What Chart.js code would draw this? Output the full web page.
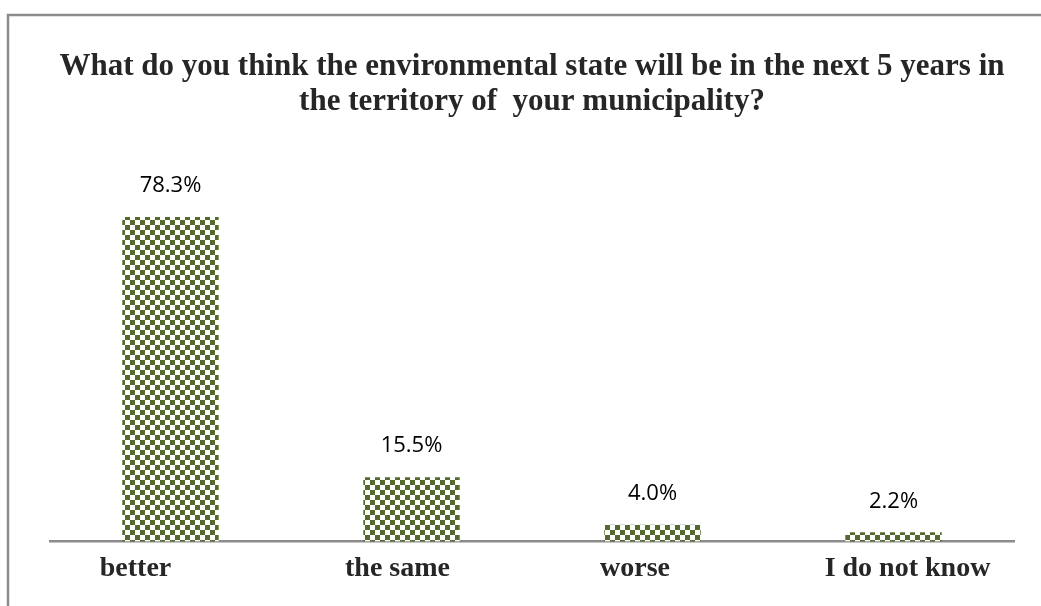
<!DOCTYPE html>
<html>
<head>
<meta charset="utf-8">
<script src="https://cdn.jsdelivr.net/npm/chart.js@4.4.1/dist/chart.umd.min.js"></script>
<style>
  html, body { margin: 0; padding: 0; background: #ffffff; }
  #wrap { position: relative; width: 1041px; height: 606px; }
</style>
</head>
<body>
<div id="wrap"><canvas id="c" width="1041" height="606"></canvas></div>
<script>
// ---- data ----
const titleLines = [
  "What do you think the environmental state will be in the next 5 years in",
  "the territory of  your municipality?"
];
const categories = ["better", "the same", "worse", "I do not know"];
const tickLabels = ["better          ", "the same    ", "worse     ", "    I do not know"];
const values = [78.3, 15.5, 4.0, 2.2];
const valueLabels = ["78.3%", "15.5%", "4.0%", "2.2%"];
const yMin = 0;
const yMax = 100;

// ---- styles ----
const GREEN = '#546a2c';
const TEXT = '#262626';
const GRAY = '#8c8c8c';
const SERIF = '"Liberation Serif", "Times New Roman", serif';

function makeChecker(ctx) {
  const s = 5;
  const t = document.createElement('canvas');
  t.width = 2 * s; t.height = 2 * s;
  const g = t.getContext('2d');
  g.fillStyle = '#ffffff';
  g.fillRect(0, 0, 2 * s, 2 * s);
  g.fillStyle = GREEN;
  g.fillRect(0, 0, s, s);
  g.fillRect(s, s, s, s);
  return ctx.createPattern(t, 'repeat');
}

const frame = {
  id: 'frame',
  beforeDraw(chart) {
    const ctx = chart.ctx;
    ctx.save();
    ctx.fillStyle = '#ffffff';
    ctx.fillRect(0, 0, chart.width, chart.height);
    ctx.strokeStyle = GRAY;
    ctx.lineWidth = 2.5;
    ctx.beginPath();
    ctx.moveTo(8, chart.height);
    ctx.lineTo(8, 15);
    ctx.lineTo(chart.width, 15);
    ctx.stroke();
    ctx.restore();
  }
};

const valueLabelPlugin = {
  id: 'valueLabels',
  afterDatasetsDraw(chart) {
    const ctx = chart.ctx;
    const meta = chart.getDatasetMeta(0);
    ctx.save();
    ctx.font = '22px "Open Sans", "Noto Sans", sans-serif';
    ctx.fillStyle = '#000000';
    ctx.textAlign = 'center';
    ctx.textBaseline = 'middle';
    meta.data.forEach((el, i) => {
      ctx.fillText(valueLabels[i], el.x, el.y - 31);
    });
    ctx.restore();
  }
};

const canvas = document.getElementById('c');
const ctx = canvas.getContext('2d');

new Chart(ctx, {
  type: 'bar',
  data: {
    labels: tickLabels,
    datasets: [{
      label: 'share',
      data: values,
      backgroundColor: makeChecker(ctx),
      borderWidth: 0,
      barPercentage: 0.4,
      categoryPercentage: 1.0
    }]
  },
  options: {
    responsive: false,
    animation: false,
    devicePixelRatio: 1,
    layout: { padding: { left: 50, right: 27, top: 0, bottom: 9 } },
    plugins: {
      legend: { display: false },
      tooltip: { enabled: false },
      title: {
        display: true,
        text: titleLines,
        color: TEXT,
        font: { family: SERIF, size: 31, weight: 'bold', lineHeight: 1.13 },
        padding: { top: 49, bottom: 8 }
      }
    },
    scales: {
      x: {
        grid: { display: false, drawTicks: false },
        border: { display: true, color: GRAY, width: 2.5 },
        ticks: {
          color: TEXT,
          padding: 11,
          font: { family: SERIF, size: 28, weight: 'bold', lineHeight: 1.2 }
        }
      },
      y: {
        display: false,
        min: yMin,
        max: yMax
      }
    }
  },
  plugins: [frame, valueLabelPlugin]
});
</script>
</body>
</html>
